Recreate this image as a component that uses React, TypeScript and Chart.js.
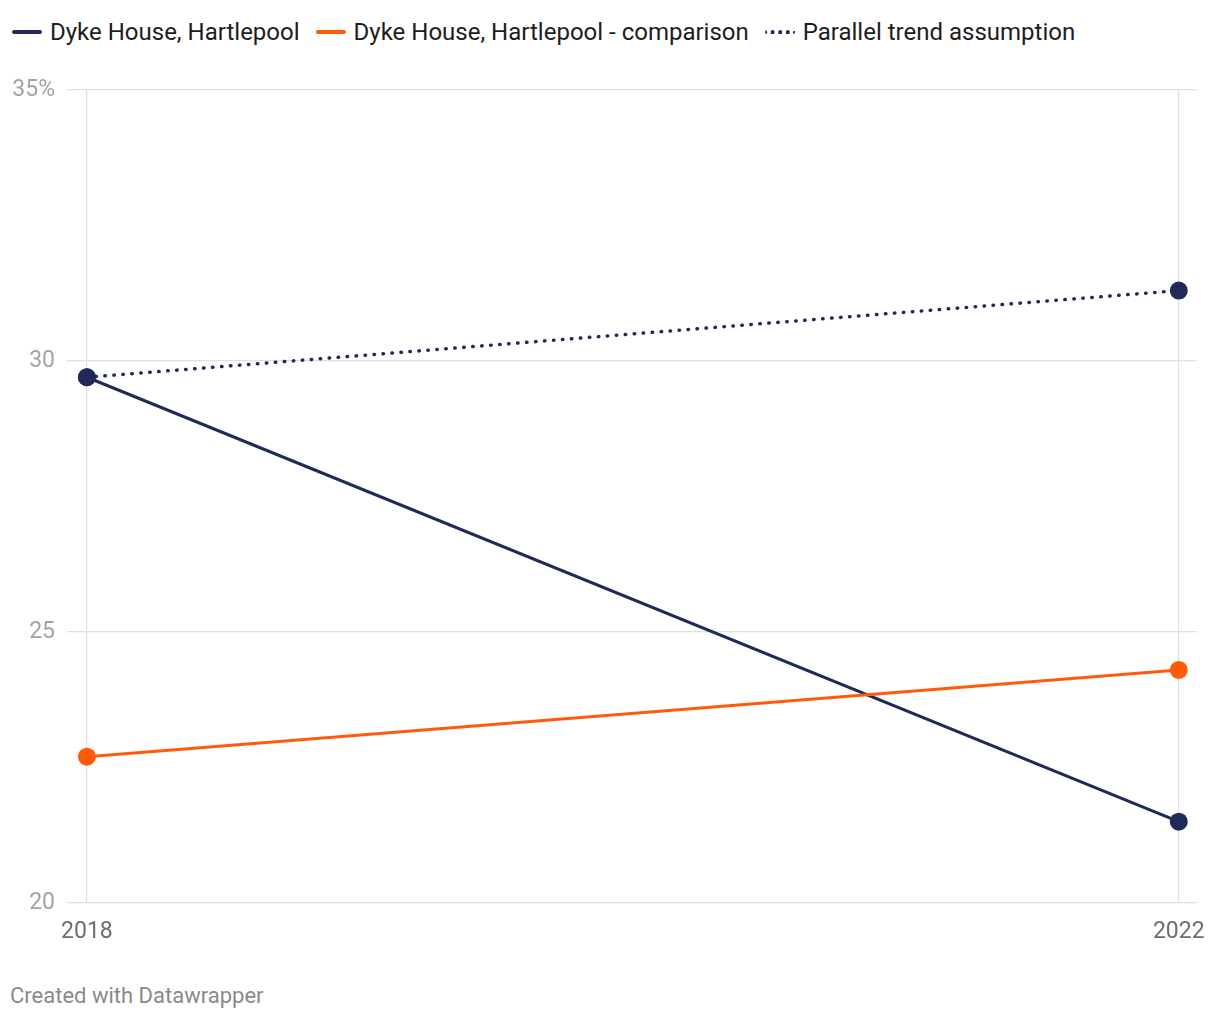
import React, { useEffect, useRef } from "react";
import { Chart, registerables } from "chart.js";

Chart.register(...registerables);

const years = [2018, 2022];
const dykeHouse = [29.7, 21.5];
const comparison = [22.7, 24.3];
const parallelTrend = [29.7, 31.3];
const yTicks = [20, 25, 30, 35];

const seriesNames = [
  "Dyke House, Hartlepool",
  "Dyke House, Hartlepool - comparison",
  "Parallel trend assumption",
];

const NAVY = "#1f2a57";
const ORANGE = "#ff5a0a";
const FONT = "Roboto, 'Noto Sans', sans-serif";

const toPoints = (vals: number[]) => years.map((x, i) => ({ x, y: vals[i] }));

export default function App() {
  const ref = useRef<HTMLCanvasElement | null>(null);

  useEffect(() => {
    document.body.style.margin = "0";
    const ctx = ref.current!.getContext("2d")!;
    const chart = new Chart(ctx, {
      type: "line",
      data: {
        datasets: [
          {
            label: seriesNames[2],
            data: toPoints(parallelTrend),
            borderColor: NAVY,
            backgroundColor: NAVY,
            borderWidth: 3.5,
            borderDash: [0.5, 8.5],
            borderCapStyle: "round",
            pointRadius: 9,
            pointHoverRadius: 9,
            pointBorderWidth: 0,
          },
          {
            label: seriesNames[1],
            data: toPoints(comparison),
            borderColor: ORANGE,
            backgroundColor: ORANGE,
            borderWidth: 3,
            pointRadius: 9,
            pointHoverRadius: 9,
            pointBorderWidth: 0,
          },
          {
            label: seriesNames[0],
            data: toPoints(dykeHouse),
            borderColor: NAVY,
            backgroundColor: NAVY,
            borderWidth: 3,
            pointRadius: 9,
            pointHoverRadius: 9,
            pointBorderWidth: 0,
          },
        ],
      },
      options: {
        animation: false,
        responsive: false,
        maintainAspectRatio: false,
        layout: { padding: { top: 90, bottom: 17, left: 0, right: 23 } },
        plugins: { legend: { display: false }, tooltip: { enabled: false } },
        scales: {
          x: {
            type: "linear",
            min: years[0] - 0.073,
            max: years[1] + 0.066,
            afterBuildTicks: (axis: any) => {
              axis.ticks = years.map((v) => ({ value: v }));
            },
            afterFit: (axis: any) => {
              axis.height = 40;
            },
            grid: { color: "#e0e0e0", lineWidth: 1.2, drawTicks: false },
            border: { display: false },
            ticks: {
              padding: 15,
              color: "#6e6e6e",
              font: { family: FONT, size: 23 },
              maxRotation: 0,
              callback: (v: any) => String(v),
            },
          },
          y: {
            type: "linear",
            min: 20,
            max: 35,
            afterBuildTicks: (axis: any) => {
              axis.ticks = yTicks.map((v) => ({ value: v }));
            },
            afterFit: (axis: any) => {
              axis.width = 67;
            },
            grid: { color: "#e0e0e0", lineWidth: 1.2, drawTicks: false },
            border: { display: false },
            ticks: {
              padding: 12,
              color: "#a3a3a3",
              font: { family: FONT, size: 23 },
              callback: (v: any) => (v === 35 ? "35%" : String(v)),
            },
          },
        },
      },
    } as any);
    return () => chart.destroy();
  }, []);

  const legendItem = (name: string, color: string, dotted: boolean) => (
    <div key={name} style={{ display: "flex", alignItems: "center", marginRight: 16 }}>
      <span
        style={{
          display: "inline-block",
          width: 30,
          height: 0,
          borderTop: dotted ? `4px dotted ${color}` : `4px solid ${color}`,
          borderRadius: 2,
          marginRight: 8,
        }}
      />
      <span>{name}</span>
    </div>
  );

  return (
    <div style={{ position: "relative", width: 1220, height: 1020, fontFamily: FONT, background: "#fff" }}>
      <div
        style={{
          position: "absolute",
          top: 16,
          left: 12,
          display: "flex",
          fontSize: 24,
          color: "#1d1d1d",
          lineHeight: "32px",
        }}
      >
        {legendItem(seriesNames[0], NAVY, false)}
        {legendItem(seriesNames[1], ORANGE, false)}
        {legendItem(seriesNames[2], NAVY, true)}
      </div>
      <canvas
        ref={ref}
        width={1220}
        height={960}
        style={{ position: "absolute", top: 0, left: 0, width: 1220, height: 960 }}
      />
      <div
        style={{
          position: "absolute",
          top: 983,
          left: 10,
          fontSize: 22,
          color: "#8a8a8a",
        }}
      >
        Created with Datawrapper
      </div>
    </div>
  );
}
